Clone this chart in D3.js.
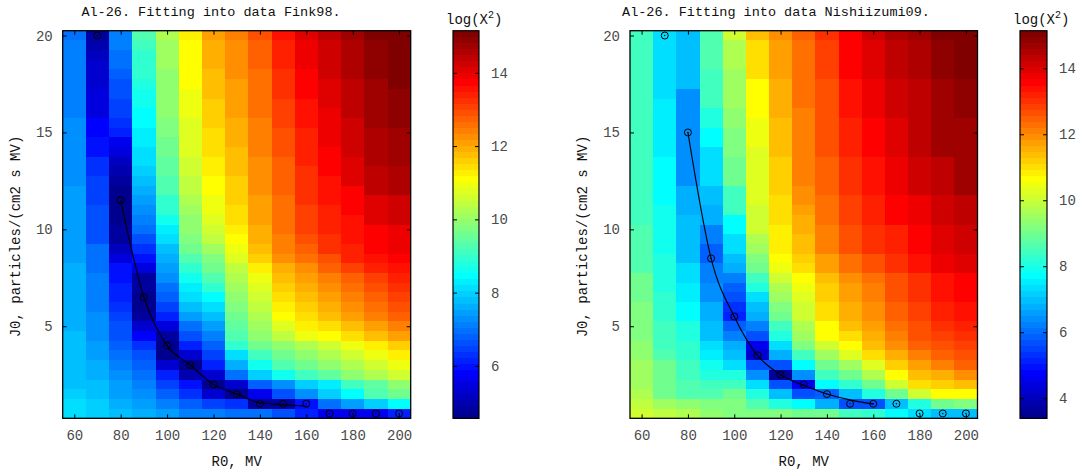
<!DOCTYPE html>
<html>
<head>
<meta charset="utf-8">
<script src="https://cdn.jsdelivr.net/npm/d3@7"></script>
<style>
  body { margin: 0; background: #fff; }
  svg text { font-family: "Liberation Mono", "DejaVu Sans Mono", monospace; }
</style>
</head>
<body>
<svg id="chart" width="1080" height="473"></svg>
<script>
// grid of the fit: columns are R0, rows are J0 (top row = 20)
var r0Values = [60, 70, 80, 90, 100, 110, 120, 130, 140, 150, 160, 170, 180, 190, 200];
var j0Values = [20, 19.5, 19, 18.5, 18, 17.5, 17, 16.5, 16, 15.5, 15, 14.5, 14, 13.5, 13, 12.5, 12, 11.5, 11, 10.5,
                10, 9.5, 9, 8.5, 8, 7.5, 7, 6.5, 6, 5.5, 5, 4.5, 4, 3.5, 3, 2.5, 2, 1.5, 1, 0.5];
var xTicks = [60, 80, 100, 120, 140, 160, 180, 200];
var yTicks = [5, 10, 15, 20];

// log(X^2), Fink98, one array per R0 column (J0 from 20 down to 0.5)
var fink98Cols = [
  [7.0,7.05,7.1,7.1,7.1,7.1,7.1,7.1,7.1,7.3, 7.3,7.3,7.3,7.3,7.3,7.3,7.45,7.45,7.45,7.45, 7.45,7.45,7.45,7.45,7.6,7.6,7.6,7.6,7.6,7.6, 7.6,7.8,7.8,7.8,7.8,7.8,7.8,8.0,8.05,8.05],
  [4.9,4.95,5.15,5.3,5.3,5.3,5.5,5.5,5.5,5.85, 5.85,6.0,6.0,6.3,6.3,6.45,6.45,6.45,6.7,6.7, 6.7,6.7,6.95,6.95,6.95,7.1,7.1,7.1,7.1,7.3, 7.3,7.3,7.45,7.45,7.6,7.6,7.8,7.8,7.95,7.95],
  [7.05,7.05,7.0,6.95,6.8,6.6,6.6,6.45,6.45,6.3, 6.1,5.7,5.5,5.2,4.95,4.75,4.7,4.65,4.7,4.72, 4.75,4.8,5.1,5.5,5.96,6.0,6.1,6.2,6.3,6.45, 6.6,6.6,6.8,6.95,7.1,7.3,7.45,7.5,7.6,7.8],
  [9.2,9.1,8.93,8.93,8.93,8.75,8.6,8.6,8.45,8.45, 8.3,8.3,8.1,8.1,7.9,7.75,7.6,7.45,7.3,7.1, 6.9,6.6,6.3,5.96,5.5,4.9,4.75,4.65,4.72,4.8, 5.3,5.8,6.3,6.6,6.8,6.95,7.1,7.3,7.45,7.6],
  [10.25,10.1,10.1,10.1,9.95,9.95,9.95,9.9,9.9,9.75, 9.75,9.6,9.6,9.45,9.45,9.26,9.26,8.93,8.93,8.6, 8.3,8.1,7.8,7.6,7.45,7.3,6.95,6.8,6.45,6.1, 5.45,4.8,4.65,4.72,5.3,6.1,6.45,6.8,7.1,7.45],
  [11.24,11.05,11.05,11.05,11.05,11.05,10.9,10.9,10.9,10.75, 10.75,10.75,10.75,10.6,10.6,10.45,10.45,10.25,10.1,10.0, 9.9,9.8,9.6,9.25,8.9,8.6,8.3,8.1,7.8,7.45, 6.95,6.6,6.1,5.3,4.65,5.0,5.96,6.3,6.8,7.1],
  [12.05,11.9,11.9,11.9,11.75,11.75,11.75,11.57,11.57,11.57, 11.4,11.4,11.4,11.24,11.24,11.05,11.05,10.9,10.9,10.75, 10.6,10.4,10.1,9.8,9.55,9.3,8.9,8.45,8.2,7.8, 7.5,7.1,6.8,6.5,6.1,5.3,4.65,5.3,6.5,7.2],
  [12.45,12.23,12.23,12.23,12.23,12.05,12.05,12.05,12.05,11.9, 11.9,11.9,11.75,11.75,11.75,11.57,11.57,11.57,11.4,11.4, 11.24,11.1,10.9,10.75,10.5,10.25,10.1,9.9,9.75,9.6, 9.45,9.26,8.93,8.1,7.6,6.95,5.3,4.7,6.3,7.0],
  [12.89,12.7,12.7,12.7,12.56,12.56,12.56,12.56,12.56,12.4, 12.4,12.4,12.4,12.23,12.23,12.23,12.23,12.05,12.05,12.05, 11.9,11.9,11.75,11.57,11.24,10.9,10.75,10.6,10.45,10.25, 10.1,9.9,9.6,9.1,8.6,7.95,6.8,5.6,4.9,6.95],
  [13.55,13.4,13.4,13.4,13.2,13.2,13.2,13.05,13.05,13.05, 12.89,12.89,12.89,12.7,12.7,12.7,12.7,12.56,12.56,12.56, 12.56,12.4,12.4,12.23,11.9,11.7,11.57,11.4,11.24,11.05, 10.75,10.4,9.9,9.6,9.26,8.6,7.3,6.6,4.9,6.6],
  [14.05,13.88,13.88,13.88,13.7,13.7,13.7,13.55,13.55,13.55, 13.4,13.4,13.4,13.4,13.2,13.2,13.2,13.2,13.05,13.05, 13.05,12.89,12.7,12.56,12.3,12.05,11.9,11.75,11.57,11.4, 11.24,10.9,10.25,9.9,9.6,9.1,7.95,7.3,5.96,6.1],
  [14.35,14.2,14.2,14.2,14.2,14.05,14.05,14.05,13.88,13.88, 13.88,13.88,13.7,13.7,13.7,13.55,13.55,13.55,13.4,13.4, 13.4,13.2,13.2,13.0,12.7,12.4,12.23,12.05,11.9,11.75, 11.4,11.05,10.6,10.25,9.9,9.45,8.3,7.95,6.95,5.6],
  [14.7,14.5,14.5,14.5,14.5,14.35,14.35,14.35,14.35,14.2, 14.2,14.2,14.2,14.05,14.05,14.05,13.7,13.7,13.7,13.55, 13.55,13.55,13.4,13.4,13.05,12.7,12.56,12.4,12.23,12.05, 11.75,11.4,10.9,10.6,10.25,9.9,9.1,8.45,7.45,5.6],
  [15.0,14.85,14.85,14.85,14.85,14.7,14.7,14.7,14.7,14.7, 14.5,14.5,14.5,14.5,14.35,14.35,14.35,14.05,14.05,14.05, 13.7,13.7,13.7,13.55,13.4,13.05,12.89,12.7,12.56,12.4, 12.05,11.75,11.24,10.9,10.6,10.25,9.45,9.26,7.95,5.6],
  [15.15,15.15,15.0,15.0,15.0,15.0,14.85,14.85,14.85,14.85, 14.7,14.7,14.7,14.7,14.5,14.5,14.5,14.2,14.2,14.2, 13.88,13.88,13.88,13.7,13.55,13.4,13.2,13.05,12.89,12.7, 12.4,12.05,11.57,11.24,10.9,10.6,9.9,9.6,8.45,6.1]
];

// log(X^2), Nishiizumi09
var nish09Cols = [
  [8.35,8.35,8.35,8.35,8.35,8.35,8.35,8.35,8.35,8.35, 8.35,8.35,8.35,8.5,8.5,8.5,8.5,8.5,8.5,8.5, 8.7,8.7,8.7,8.7,8.7,8.9,8.9,8.9,9.1,9.25, 9.25,9.25,9.4,9.4,9.6,9.6,9.6,9.8,9.85,10.1],
  [7.35,7.42,7.42,7.42,7.42,7.42,7.42,7.6,7.6,7.6, 7.6,7.6,7.6,7.79,7.79,7.79,7.79,7.79,7.95,7.95, 7.95,7.95,7.95,8.15,8.15,8.15,8.15,8.3,8.3,8.3, 8.5,8.5,8.5,8.7,8.9,8.9,9.05,9.05,9.6,9.9],
  [7.05,7.05,6.9,6.9,6.9,6.9,6.5,6.5,6.5,6.5, 6.45,6.5,6.5,6.5,6.5,6.5,6.7,6.7,6.7,6.9, 6.9,7.05,7.05,7.05,7.25,7.25,7.6,7.6,7.79,7.79, 8.15,8.15,8.3,8.3,8.5,8.5,8.7,8.7,9.3,9.7],
  [8.7,8.7,8.7,8.7,8.5,8.5,8.5,8.5,8.15,8.15, 7.79,7.79,7.42,7.42,7.25,7.25,7.05,7.05,6.7,6.7, 6.3,6.15,5.96,5.9,6.15,6.3,6.5,6.5,6.7,6.8, 7.05,7.05,7.42,7.6,7.95,8.15,8.5,8.7,9.1,9.4],
  [10.0,9.8,9.8,9.8,9.6,9.6,9.6,9.6,9.4,9.4, 9.25,9.25,9.25,8.9,8.9,8.9,8.5,8.5,8.5,7.79, 7.79,7.42,7.25,6.9,6.7,6.3,5.96,5.6,5.3,5.2, 5.8,6.3,6.7,7.05,7.42,8.15,8.5,8.9,9.1,9.25],
  [11.35,11.08,11.08,11.08,11.08,10.71,10.71,10.71,10.71,10.55, 10.55,10.55,10.35,10.35,10.35,10.2,10.2,10.2,10.0,10.0, 10.0,9.8,9.6,9.25,8.9,8.5,8.15,7.42,7.05,6.7, 6.3,5.6,4.5,4.3,5.6,6.5,7.25,8.15,8.7,9.25],
  [11.9,11.8,11.8,11.8,11.8,11.6,11.6,11.6,11.6,11.45, 11.45,11.45,11.45,11.25,11.25,11.25,11.25,11.08,11.08,11.08, 10.9,10.9,10.9,10.71,10.4,10.0,9.8,9.6,9.25,8.9, 8.5,8.15,7.42,6.7,5.6,3.6,5.6,7.05,8.15,9.25],
  [12.45,12.35,12.35,12.35,12.25,12.25,12.25,12.25,12.17,12.17, 12.17,12.17,12.05,12.05,12.05,12.05,11.9,11.9,11.8,11.6, 11.6,11.45,11.45,11.25,11.08,10.71,10.45,10.35,10.1,10.0, 9.7,9.6,9.25,8.5,7.79,6.5,4.6,5.6,7.79,9.05],
  [13.05,12.9,12.9,12.9,12.9,12.75,12.75,12.75,12.75,12.6, 12.6,12.6,12.6,12.45,12.45,12.45,12.45,12.3,12.3,12.3, 12.1,12.1,12.1,11.8,11.8,11.45,11.25,11.25,11.08,11.08, 10.6,10.6,10.0,9.6,9.05,8.5,7.79,5.9,6.8,8.9],
  [13.64,13.5,13.5,13.5,13.5,13.35,13.35,13.35,13.35,13.2, 13.2,13.2,13.2,13.05,13.05,13.05,13.05,12.9,12.9,12.9, 12.6,12.6,12.6,12.3,12.3,12.0,11.8,11.8,11.6,11.6, 11.45,11.08,10.71,10.2,9.6,9.05,8.3,7.05,5.6,8.5],
  [14.05,13.9,13.9,13.9,13.9,13.7,13.7,13.7,13.7,13.55, 13.55,13.55,13.55,13.4,13.4,13.4,13.4,13.2,13.2,13.2, 13.0,13.0,13.0,12.7,12.7,12.35,12.2,12.2,12.0,12.0, 11.8,11.6,11.45,11.08,10.35,9.8,9.05,8.15,5.6,8.3],
  [14.45,14.3,14.3,14.3,14.3,14.1,14.1,14.1,14.1,13.95, 13.95,13.95,13.95,13.75,13.75,13.75,13.75,13.5,13.5,13.5, 13.3,13.3,13.3,13.0,13.0,12.7,12.6,12.6,12.45,12.45, 12.3,12.17,12.0,11.6,11.25,10.71,10.0,8.9,7.05,7.79],
  [14.65,14.55,14.55,14.55,14.55,14.4,14.4,14.4,14.4,14.25, 14.25,14.25,14.25,14.05,14.05,14.05,14.05,13.85,13.85,13.85, 13.64,13.64,13.64,13.4,13.4,13.1,13.0,13.0,12.9,12.9, 12.7,12.6,12.45,12.17,11.8,11.45,11.08,10.0,8.15,7.25],
  [15.0,14.9,14.9,14.9,14.9,14.75,14.75,14.75,14.75,14.6, 14.6,14.6,14.6,14.4,14.4,14.4,14.4,14.2,14.2,14.2, 13.95,13.95,13.95,13.7,13.7,13.45,13.35,13.35,13.2,13.2, 13.05,12.9,12.75,12.54,12.17,11.6,11.25,10.71,8.9,7.05],
  [15.1,15.05,15.05,15.05,15.05,14.9,14.9,14.9,14.9,14.75, 14.75,14.75,14.75,14.6,14.6,14.6,14.6,14.4,14.4,14.4, 14.15,14.15,14.15,13.9,13.9,13.64,13.55,13.55,13.4,13.4, 13.27,13.1,12.9,12.7,12.45,11.9,11.45,10.71,9.25,7.05]
];

// best J0 for every R0 (circles) and the fitted curve
var bestR0 = [70, 80, 90, 100, 110, 120, 130, 140, 150, 160, 170, 180, 190, 200];
var finkBestJ0 = [20, 11.5, 6.5, 4, 3, 2, 1.5, 1, 1, 1, 0.5, 0.5, 0.5, 0.5];
var nishBestJ0 = [20, 15, 8.5, 5.5, 3.5, 2.5, 2, 1.5, 1, 1, 1, 0.5, 0.5, 0.5];
var fitR0 = [80, 90, 100, 110, 120, 130, 140, 150, 160];
var finkFitJ0 = [11.5, 6.5, 4.0, 3.0, 2.0, 1.5, 1.05, 0.95, 0.88];
var nishFitJ0 = [15, 8.5, 5.5, 3.5, 2.5, 1.95, 1.5, 1.2, 0.98];

var finkClim = [4.57, 15.15], nishClim = [3.39, 15.14];
var finkCbTicks = [6, 8, 10, 12, 14], nishCbTicks = [4, 6, 8, 10, 12, 14];

// MATLAB jet(64)
function jetU(j) {
  if (j < 1 || j > 47) return 0;
  if (j <= 16) return j / 16;
  if (j <= 31) return 1;
  return (48 - j) / 16;
}
var jet64 = d3.range(64).map(function(i) {
  var k = i + 1;
  return d3.rgb(Math.round(255 * jetU(k - 24)), Math.round(255 * jetU(k - 8)), Math.round(255 * jetU(k + 8))).toString();
});

var svg = d3.select("#chart");
var plotTop = 30.7, plotBottom = 418.3;
var tickColor = "#4a4a4a";

function drawPanel(p) {
  var x = d3.scaleLinear().domain([55, 205]).range([p.left, p.right]);
  var y = d3.scaleLinear().domain([0.25, 20.25]).range([plotBottom, plotTop]);
  var color = d3.scaleQuantize().domain(p.clim).range(jet64);
  var g = svg.append("g");

  var cells = [];
  p.cols.forEach(function(col, ci) {
    col.forEach(function(v, ri) {
      cells.push({ r0: r0Values[ci], j0: j0Values[ri], v: v });
    });
  });

  g.selectAll("rect.cell")
    .data(cells)
    .enter()
    .append("rect")
    .attr("class", "cell")
    .attr("x", function(d) { return x(d.r0 - 5); })
    .attr("y", function(d) { return y(d.j0 + 0.25); })
    .attr("width", function(d) { return x(d.r0 + 5) - x(d.r0 - 5) + 0.4; })
    .attr("height", function(d) { return y(d.j0 - 0.25) - y(d.j0 + 0.25) + 0.4; })
    .style("fill", function(d) { return color(d.v); })
    .style("shape-rendering", "crispEdges");

  // fitted curve
  g.append("path")
    .datum(fitR0.map(function(r, i) { return [r, p.fit[i]]; }))
    .attr("d", d3.line()
      .x(function(d) { return x(d[0]); })
      .y(function(d) { return y(d[1]); })
      .curve(d3.curveMonotoneX))
    .style("fill", "none")
    .style("stroke", "#000")
    .style("stroke-width", 1.1);

  // best-fit markers
  var mk = g.selectAll("g.mk")
    .data(bestR0.map(function(r, i) { return [r, p.best[i]]; }))
    .enter()
    .append("g")
    .attr("transform", function(d) { return "translate(" + x(d[0]) + "," + y(d[1]) + ")"; });
  mk.append("circle").attr("r", 3.5).style("fill", "none").style("stroke", "#000").style("stroke-width", 1);
  mk.append("circle").attr("r", 0.7).style("fill", "#000");

  // axes with inward ticks on all four sides
  function styleAxis(sel) {
    sel.select(".domain").remove();
    sel.selectAll(".tick line").style("stroke", "#000");
    sel.selectAll(".tick text")
      .style("font-family", "'Liberation Mono', monospace")
      .style("font-size", "14px")
      .style("fill", tickColor);
  }
  g.append("g").attr("transform", "translate(0," + plotBottom + ")")
    .call(d3.axisBottom(x).tickValues(xTicks).tickSize(-4).tickPadding(12)).call(styleAxis);
  g.append("g").attr("transform", "translate(0," + plotTop + ")")
    .call(d3.axisTop(x).tickValues(xTicks).tickSize(-4).tickFormat("")).call(styleAxis);
  g.append("g").attr("transform", "translate(" + p.left + ",0)")
    .call(d3.axisLeft(y).tickValues(yTicks).tickSize(-4).tickPadding(10)).call(styleAxis);
  g.append("g").attr("transform", "translate(" + p.right + ",0)")
    .call(d3.axisRight(y).tickValues(yTicks).tickSize(-4).tickFormat("")).call(styleAxis);

  g.append("rect")
    .attr("x", p.left).attr("y", plotTop)
    .attr("width", p.right - p.left).attr("height", plotBottom - plotTop)
    .style("fill", "none").style("stroke", "#000").style("stroke-width", 1.3);

  // titles and labels
  g.append("text")
    .attr("x", p.titleX).attr("y", 16)
    .attr("text-anchor", "middle")
    .style("font-size", "13.5px").style("fill", "#111")
    .text(p.title);
  g.append("text")
    .attr("x", (p.left + p.right) / 2).attr("y", 466)
    .attr("text-anchor", "middle")
    .style("font-size", "14px").style("fill", "#111")
    .text("R0, MV");
  g.append("text")
    .attr("transform", "translate(" + (p.left - 43) + "," + ((plotTop + plotBottom) / 2 + 12) + ") rotate(-90)")
    .attr("text-anchor", "middle")
    .style("font-size", "14px").style("fill", "#111")
    .text("J0, particles/(cm2 s MV)");

  // colorbar
  var cb = d3.scaleLinear().domain(p.clim).range([plotBottom, plotTop]);
  var step = (p.clim[1] - p.clim[0]) / 64;
  var cg = svg.append("g");
  cg.selectAll("rect.band")
    .data(jet64)
    .enter()
    .append("rect")
    .attr("x", p.cbLeft)
    .attr("y", function(d, i) { return cb(p.clim[0] + (i + 1) * step); })
    .attr("width", p.cbRight - p.cbLeft)
    .attr("height", function(d, i) { return cb(p.clim[0] + i * step) - cb(p.clim[0] + (i + 1) * step) + 0.3; })
    .style("fill", function(d) { return d; })
    .style("shape-rendering", "crispEdges");
  cg.append("g").attr("transform", "translate(" + p.cbRight + ",0)")
    .call(d3.axisRight(cb).tickValues(p.cbTicks).tickSize(-4).tickPadding(12)).call(styleAxis);
  cg.append("g").attr("transform", "translate(" + p.cbLeft + ",0)")
    .call(d3.axisLeft(cb).tickValues(p.cbTicks).tickSize(-4).tickFormat("")).call(styleAxis);
  cg.append("rect")
    .attr("x", p.cbLeft).attr("y", plotTop)
    .attr("width", p.cbRight - p.cbLeft).attr("height", plotBottom - plotTop)
    .style("fill", "none").style("stroke", "#000").style("stroke-width", 1.2);
  var lab = cg.append("text")
    .attr("x", p.cbLeft - 7).attr("y", 24)
    .style("font-size", "14px").style("fill", "#111");
  lab.append("tspan").text("log(X");
  lab.append("tspan").attr("dy", -6).style("font-size", "10px").text("2");
  lab.append("tspan").attr("dy", 6).text(")");
}

drawPanel({
  cols: fink98Cols, clim: finkClim, best: finkBestJ0, fit: finkFitJ0,
  left: 62.7, right: 410.7, cbLeft: 453, cbRight: 479, cbTicks: finkCbTicks,
  title: "Al-26. Fitting into data Fink98.", titleX: 211
});
drawPanel({
  cols: nish09Cols, clim: nishClim, best: nishBestJ0, fit: nishFitJ0,
  left: 630, right: 977.5, cbLeft: 1020, cbRight: 1047, cbTicks: nishCbTicks,
  title: "Al-26. Fitting into data Nishiizumi09.", titleX: 776
});
</script>
</body>
</html>
